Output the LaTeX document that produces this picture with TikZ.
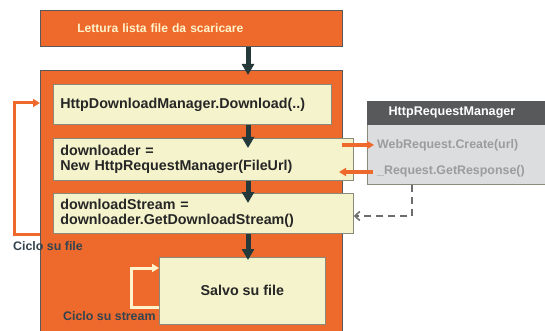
\documentclass[tikz,border=0pt]{standalone}
\usepackage{fontspec}
\setmainfont{Liberation Sans}
\usetikzlibrary{arrows.meta,calc}
\definecolor{orng}{HTML}{EE692C}
\definecolor{cream}{HTML}{F4F3CB}
\definecolor{darkar}{HTML}{26393A}
\definecolor{boxline}{HTML}{8A8A7A}
\definecolor{hdr}{HTML}{58595B}
\definecolor{bodyg}{HTML}{DCDDDE}
\definecolor{gtext}{HTML}{9B9C9E}
\definecolor{lbl}{HTML}{34444F}
\definecolor{loopc}{HTML}{FFF4CC}
\begin{document}
\begin{tikzpicture}[x=1pt,y=-1pt,
  cbox/.style={draw=boxline,line width=0.7pt,fill=cream,anchor=north west,inner sep=0pt,inner xsep=7pt,
     align=left,font=\bfseries\fontsize{14.3}{14.5}\selectfont,text=black!85},
  darrow/.style={draw=darkar,line width=5pt,-{Triangle[width=12pt,length=11pt]}},
  oarrow/.style={draw=orng,line width=3.2pt,-{Triangle[width=8pt,length=7pt]}},
  lbltext/.style={font=\bfseries\fontsize{12.4}{13}\selectfont,text=lbl,inner sep=0pt}]
\useasboundingbox (0,0) rectangle (545,331);
\begin{scope}
\clip (0,0) rectangle (545,331);
% top box
\node[fill=orng,draw=hdr,line width=0.6pt,anchor=north west,minimum height=36pt,text width=228pt,inner sep=0pt,inner xsep=37pt,align=left,
  font=\bfseries\fontsize{12.1}{14}\selectfont,text=loopc] (top) at (40,10) {Lettura lista file da scaricare};
% big orange box
\node[fill=orng,draw=hdr,line width=0.6pt,anchor=north west,minimum width=302pt,minimum height=270pt,inner sep=0pt] (big) at (40,70) {};
% boxes
\node[cbox,text width=264pt,minimum height=40pt] (b1) at (53,84) {HttpDownloadManager.Download(..)};
\node[cbox,text width=286pt,minimum height=42pt] (b2) at (53,138) {downloader =\\New HttpRequestManager(FileUrl)};
\node[cbox,text width=286pt,minimum height=40pt] (b3) at (53,193) {downloadStream =\\downloader.GetDownloadStream()};
\node[cbox,minimum width=166pt,minimum height=67pt,align=center,inner xsep=0pt] (b4) at (159,257) {Salvo su file};
% right box
\node[fill=bodyg,draw=boxline,line width=0.6pt,anchor=north west,minimum width=185pt,minimum height=83pt,inner sep=0pt] (rb) at (367,101) {};
\node[fill=hdr,anchor=north west,minimum width=185pt,minimum height=24pt,inner sep=0pt] (rh) at (367,101) {};
\node[font=\bfseries\fontsize{12.6}{13}\selectfont,text=white,inner sep=0pt] (rht) at (452,113) {HttpRequestManager};
\node[font=\bfseries\fontsize{12.4}{13}\selectfont,text=gtext,anchor=west,inner sep=0pt] (m1) at (377,145) {WebRequest.Create(url)};
\node[font=\bfseries\fontsize{12.4}{13}\selectfont,text=gtext,anchor=west,inner sep=0pt] (m2) at (377,171) {\_Request.GetResponse()};
% labels
\node[lbltext,anchor=west] (l1) at (13,246) {Ciclo su file};
\node[lbltext,anchor=west] (l2) at (63,316) {Ciclo su stream};
% coordinates
\coordinate (ax) at (248,0);
% dark arrows
\draw[darrow] (top.south -| ax) -- ([yshift=-5pt]big.north -| ax);
\draw[darrow] (b1.south -| ax) -- ([yshift=-10pt]b2.north -| ax);
\draw[darrow] (b2.south -| ax) -- ([yshift=-10pt]b3.north -| ax);
\draw[darrow] (b3.south -| ax) -- ([yshift=-3pt]b4.north -| ax);
% ciclo su file
\coordinate (cf1) at (14,234);
\coordinate (cf2) at (14,103);
\draw[oarrow,line width=3pt] (big.west |- cf1) -- (cf1) -- (cf2) -- (big.west |- cf2);
% ciclo su stream
\coordinate (cs1) at (131,307);
\coordinate (cs2) at (131,268);
\draw[draw=loopc,line width=3pt,-{Triangle[width=8pt,length=7pt]}] (b4.west |- cs1) -- (cs1) -- (cs2) -- (b4.west |- cs2);
% orange call arrows
\coordinate (o1) at (342,145);
\coordinate (o2) at (374,145);
\coordinate (o3) at (373,172);
\coordinate (o4) at (339,172);
\draw[oarrow] (o1) -- (o2);
\draw[oarrow] (o3) -- (o4);
% dashed return
\coordinate (d1) at (412,216);
\draw[draw=gray!85!black,line width=1.5pt,dash pattern=on 7pt off 5pt,-{Straight Barb[width=9pt,length=5pt]}] (rb.south -| d1) -- (d1) -- (b3.east |- d1);
\end{scope}
\end{tikzpicture}
\end{document}
